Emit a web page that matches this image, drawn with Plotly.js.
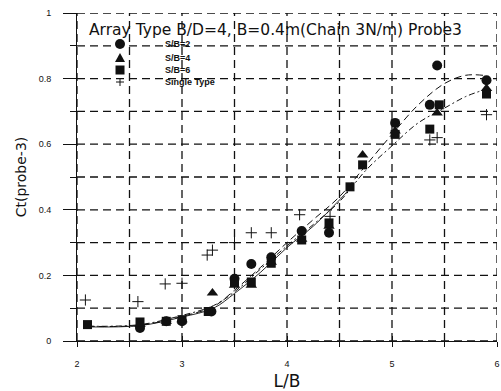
<!DOCTYPE html>
<html>
<head>
<meta charset="utf-8">
<script src="https://cdn.plot.ly/plotly-3.0.1.min.js"></script>
<style>
  html, body { margin: 0; padding: 0; background: #fff; }
  #chart { width: 501px; height: 391px; }
</style>
</head>
<body>
<div id="chart"></div>
<script>
// Measured Ct at probe 3 versus L/B for each array spacing
const sb2X = [2.6, 2.85, 3.0, 3.28, 3.5, 3.66, 3.85, 4.14, 4.4, 5.03, 5.36, 5.43, 5.9];
const sb2Y = [0.04, 0.06, 0.06, 0.09, 0.19, 0.235, 0.255, 0.335, 0.33, 0.665, 0.72, 0.84, 0.795];

const sb4X = [2.6, 2.85, 3.0, 3.29, 3.5, 3.66, 3.85, 4.14, 4.4, 4.72, 5.03, 5.43, 5.9];
const sb4Y = [0.05, 0.06, 0.065, 0.146, 0.17, 0.17, 0.24, 0.31, 0.35, 0.567, 0.64, 0.695, 0.77];

const sb6X = [2.1, 2.6, 2.85, 3.0, 3.25, 3.5, 3.66, 3.85, 4.14, 4.4, 4.6, 4.72, 5.03, 5.36, 5.45, 5.9];
const sb6Y = [0.05, 0.058, 0.06, 0.065, 0.09, 0.18, 0.18, 0.237, 0.308, 0.36, 0.47, 0.537, 0.63, 0.646, 0.72, 0.753];

const singleX = [2.08, 2.58, 2.84, 3.0, 3.24, 3.29, 3.5, 3.66, 3.85, 4.12, 4.41, 5.36, 5.43, 5.9];
const singleY = [0.125, 0.12, 0.174, 0.176, 0.262, 0.277, 0.30, 0.33, 0.33, 0.385, 0.38, 0.613, 0.62, 0.69];

// Fitted trend curves
const fitX = [2.1, 2.6, 3.0, 3.3, 3.5, 3.75, 4.0, 4.25, 4.5, 4.75, 5.0, 5.25, 5.5, 5.7, 5.87];
const fitUpperY = [0.045, 0.048, 0.075, 0.105, 0.155, 0.225, 0.30, 0.37, 0.44, 0.535, 0.63, 0.72, 0.785, 0.81, 0.81];
const fitLowerY = [0.045, 0.05, 0.078, 0.108, 0.15, 0.22, 0.29, 0.355, 0.425, 0.52, 0.595, 0.665, 0.71, 0.745, 0.765];
const fitSolidX = [2.1, 2.6, 3.0, 3.3, 3.5, 3.75, 4.0, 4.25, 4.5, 4.6];
const fitSolidY = [0.043, 0.047, 0.073, 0.1, 0.145, 0.21, 0.285, 0.35, 0.43, 0.465];

// Tick positions (every grid line) and their labels
const xTickVals = [2, 2.5, 3, 3.5, 4, 4.5, 5, 5.5, 6];
const xTickText = ['2', '', '3', '', '4', '', '5', '', '6'];
const yTickVals = [0, 0.1, 0.2, 0.3, 0.4, 0.5, 0.6, 0.7, 0.8, 0.9, 1];
const yTickText = ['0', '', '0.2', '', '0.4', '', '0.6', '', '0.8', '', '1'];
const yLongTicks = [0, 0.2, 0.4, 0.6, 0.8, 1];

const legendLabels = ['S/B=2', 'S/B=4', 'S/B=6', 'Single Type'];
const titleText = 'Array Type B/D=4, B=0.4m(Chain 3N/m) Probe3';

const ink = '#111';

const traces = [
  { x: fitX, y: fitUpperY, mode: 'lines', line: { color: ink, width: 1, dash: '7px,4px', shape: 'spline' }, hoverinfo: 'skip' },
  { x: fitX, y: fitLowerY, mode: 'lines', line: { color: ink, width: 1, dash: '6px,3px,2px,3px', shape: 'spline' }, hoverinfo: 'skip' },
  { x: fitSolidX, y: fitSolidY, mode: 'lines', line: { color: ink, width: 0.9, shape: 'spline' }, hoverinfo: 'skip' },
  { x: sb2X, y: sb2Y, mode: 'markers', name: legendLabels[0], marker: { symbol: 'circle', size: 10, color: ink } },
  { x: sb4X, y: sb4Y, mode: 'markers', name: legendLabels[1], marker: { symbol: 'triangle-up', size: 10, color: ink } },
  { x: sb6X, y: sb6Y, mode: 'markers', name: legendLabels[2], marker: { symbol: 'square', size: 9, color: ink } },
  { x: singleX, y: singleY, mode: 'markers', name: legendLabels[3],
    marker: { symbol: 'cross-thin-open', size: 8, color: ink, line: { color: ink, width: 1 } } },
  // empty traces so the overlay axes carrying extra tick marks are built
  { x: [], y: [], xaxis: 'x2', yaxis: 'y', mode: 'markers', hoverinfo: 'skip' },
  { x: [], y: [], xaxis: 'x', yaxis: 'y2', mode: 'markers', hoverinfo: 'skip' }
].map(t => Object.assign({ showlegend: false }, t));

// Hand-placed key in the upper-left of the plotting area
const keyX = 0.1024;          // symbol column (paper units)
const keyTextX = 0.205;       // label column
const keyRows = [0.9055, 0.8628, 0.8262, 0.7896];

const shapes = [
  { type: 'circle', xref: 'paper', yref: 'paper', xsizemode: 'pixel', ysizemode: 'pixel',
    xanchor: keyX, yanchor: keyRows[0], x0: -5, x1: 5, y0: -5, y1: 5,
    fillcolor: ink, line: { width: 0 } },
  { type: 'path', xref: 'paper', yref: 'paper', xsizemode: 'pixel', ysizemode: 'pixel',
    xanchor: keyX, yanchor: keyRows[1], path: 'M-5,-4 L5,-4 L0,5 Z',
    fillcolor: ink, line: { width: 0 } },
  { type: 'rect', xref: 'paper', yref: 'paper', xsizemode: 'pixel', ysizemode: 'pixel',
    xanchor: keyX, yanchor: keyRows[2], x0: -4.5, x1: 4.5, y0: -4.5, y1: 4.5,
    fillcolor: ink, line: { width: 0 } },
  { type: 'path', xref: 'paper', yref: 'paper', xsizemode: 'pixel', ysizemode: 'pixel',
    xanchor: keyX, yanchor: keyRows[3], path: 'M-4,0 L4,0 M0,-4 L0,4',
    line: { color: ink, width: 1 } }
];

// Dashed grid at every tick position, drawn below the data
const gridLine = { color: ink, width: 1.3, dash: '8px,5px' };
xTickVals.forEach(v => shapes.push({
  type: 'line', xref: 'x', yref: 'paper', x0: v, x1: v, y0: 0, y1: 1, layer: 'below', line: gridLine
}));
yTickVals.forEach(v => shapes.push({
  type: 'line', xref: 'paper', yref: 'y', x0: 0, x1: 1, y0: v, y1: v, layer: 'below', line: gridLine
}));

const annotations = legendLabels.map((label, i) => ({
  text: '<b>' + label + '</b>', xref: 'paper', yref: 'paper',
  x: keyTextX, y: keyRows[i], xanchor: 'left', yanchor: 'middle', showarrow: false,
  font: { family: 'Arial, Liberation Sans, sans-serif', size: 9, color: ink }
}));

annotations.push({
  text: titleText, xref: 'paper', yref: 'paper', x: 0.024, y: 0.948,
  xanchor: 'left', yanchor: 'middle', showarrow: false,
  font: { family: 'DejaVu Sans, sans-serif', size: 15.5, color: ink }
});

const layout = {
  width: 501,
  height: 391,
  margin: { l: 77, r: 4, t: 13, b: 50 },
  paper_bgcolor: '#fff',
  plot_bgcolor: '#fff',
  showlegend: false,
  font: { family: 'Arial, Liberation Sans, sans-serif', color: ink },
  xaxis: {
    range: [2, 6],
    tickmode: 'array',
    tickvals: xTickVals,
    ticktext: xTickText,
    showline: true, linecolor: ink, linewidth: 1,
    showgrid: false, zeroline: false,
    ticks: 'outside', ticklen: 5, tickcolor: ink, tickwidth: 1,
    ticklabelstandoff: 9,
    tickfont: { size: 9, color: ink },
    title: { text: 'L/B', font: { family: 'DejaVu Sans, sans-serif', size: 17, color: ink }, standoff: 8 }
  },
  // inner half of the crossing tick marks on the L/B axis
  xaxis2: {
    overlaying: 'x', anchor: 'y', side: 'bottom',
    range: [2, 6], tickmode: 'array', tickvals: xTickVals, showticklabels: false,
    showgrid: false, zeroline: false, showline: false,
    ticks: 'inside', ticklen: 5, tickcolor: ink, tickwidth: 1
  },
  yaxis: {
    range: [0, 1],
    tickmode: 'array',
    tickvals: yTickVals,
    ticktext: yTickText,
    showline: true, linecolor: ink, linewidth: 1,
    showgrid: false, zeroline: false,
    ticks: 'outside', ticklen: 6, tickcolor: ink, tickwidth: 1,
    ticklabelstandoff: 17,
    tickfont: { size: 9, color: ink },
    title: { text: 'Ct(probe-3)', font: { family: 'DejaVu Sans, sans-serif', size: 14, color: ink }, standoff: 8 }
  },
  // longer tick marks at the labelled Ct values
  yaxis2: {
    overlaying: 'y', anchor: 'x', side: 'left',
    range: [0, 1], tickmode: 'array', tickvals: yLongTicks, showticklabels: false,
    showgrid: false, zeroline: false, showline: false,
    ticks: 'outside', ticklen: 13, tickcolor: ink, tickwidth: 1
  },
  shapes: shapes,
  annotations: annotations
};

Plotly.newPlot('chart', traces, layout, { staticPlot: true, displayModeBar: false });
</script>
</body>
</html>
